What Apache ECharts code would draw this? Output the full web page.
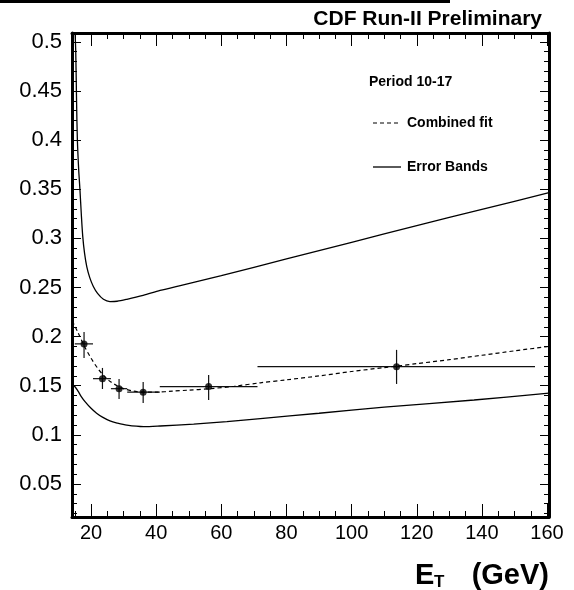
<!DOCTYPE html>
<html>
<head>
<meta charset="utf-8">
<script src="https://cdn.jsdelivr.net/npm/echarts@6/dist/echarts.min.js"></script>
<style>html,body{margin:0;padding:0;background:#fff;}#c{width:574px;height:590px;}</style>
</head>
<body>
<div id="c"></div>
<script>
// ---- data ----
const pointX = [17.85, 23.5, 28.6, 36.0, 56.1, 113.8];
const pointY = [0.1926, 0.1572, 0.1470, 0.1434, 0.1491, 0.1694];
const binLo  = [15.0, 20.6, 26.1, 31.1, 41.1, 71.1];
const binHi  = [20.6, 26.1, 31.1, 41.1, 71.1, 156.3];
const errLo  = [0.1783, 0.1467, 0.1366, 0.1325, 0.1355, 0.1518];
const errHi  = [0.2048, 0.1681, 0.1569, 0.1539, 0.1610, 0.1865];

const fitX = [14.15, 15, 16, 18, 20, 22, 24, 26, 28, 30, 33, 36, 40, 45, 50, 56, 64, 72, 80, 90, 100, 110, 114, 120, 130, 140, 150, 160, 160.6];
const fitY = [0.216, 0.211, 0.204, 0.190, 0.178, 0.168, 0.160, 0.154, 0.150, 0.147, 0.1445, 0.1435, 0.1435, 0.1445, 0.1455, 0.1468, 0.1495, 0.1530, 0.1560, 0.1600, 0.1645, 0.1685, 0.1700, 0.1725, 0.1765, 0.1810, 0.1855, 0.1898, 0.1900];

const upX = [14.9, 15.0, 15.3, 15.55, 15.8, 16.2, 16.6, 17.0, 17.45, 18.0, 18.7, 19.6, 20.7, 22.0, 23.8, 25.8, 28, 31, 36, 41.2, 47.4, 60, 80, 100, 120, 140, 160, 160.6];
const upY = [0.56, 0.52, 0.49, 0.44, 0.40, 0.37, 0.349, 0.325, 0.302, 0.285, 0.271, 0.260, 0.251, 0.244, 0.238, 0.2357, 0.236, 0.238, 0.242, 0.247, 0.252, 0.262, 0.279, 0.296, 0.313, 0.3295, 0.346, 0.3465];

const loX = [14.15, 14.8, 16, 17, 18.15, 20, 21.7, 23.5, 25.8, 28, 31, 36.1, 41.2, 51.5, 61.7, 72, 90, 110, 137.6, 160.6];
const loY = [0.151, 0.150, 0.1445, 0.139, 0.1338, 0.127, 0.122, 0.118, 0.1142, 0.112, 0.1098, 0.1083, 0.109, 0.111, 0.1134, 0.1165, 0.122, 0.1282, 0.1355, 0.1424];

const xMajor = [20, 40, 60, 80, 100, 120, 140, 160];
const xMinor = [15, 25, 30, 35, 45, 50, 55, 65, 70, 75, 85, 90, 95, 105, 110, 115, 125, 130, 135, 145, 150, 155];
const yMajor = [0.05, 0.1, 0.15, 0.2, 0.25, 0.3, 0.35, 0.4, 0.45, 0.5];
const yMinor = [0.02, 0.03, 0.04, 0.06, 0.07, 0.08, 0.09, 0.11, 0.12, 0.13, 0.14, 0.16, 0.17, 0.18, 0.19, 0.21, 0.22, 0.23, 0.24, 0.26, 0.27, 0.28, 0.29, 0.31, 0.32, 0.33, 0.34, 0.36, 0.37, 0.38, 0.39, 0.41, 0.42, 0.43, 0.44, 0.46, 0.47, 0.48, 0.49];

const titleText = 'CDF Run-II Preliminary';
const periodText = 'Period 10-17';
const fitName = 'Combined fit';
const bandName = 'Error Bands';

// ---- chart ----
const FONT = '"Liberation Sans", Arial, Helvetica, sans-serif';
const X_MIN = 14.15, X_MAX = 160.6, Y_MIN = 0.0164, Y_MAX = 0.509;
const chart = echarts.init(document.getElementById('c'), null, {renderer: 'canvas'});

function xAx(pos, major, showLabel, lineShow) {
  return {
    type: 'value', position: pos, min: X_MIN, max: X_MAX,
    axisLine: {show: lineShow, onZero: false, lineStyle: {color: '#000', width: 3}},
    axisTick: {show: true, inside: true, length: major ? 13 : 6, customValues: major ? xMajor : xMinor,
               lineStyle: {color: '#000', width: 1}},
    axisLabel: {show: showLabel, customValues: xMajor, margin: 6, color: '#000', fontSize: 20, fontFamily: FONT},
    splitLine: {show: false}
  };
}
function yAx(pos, major, showLabel, lineShow) {
  return {
    type: 'value', position: pos, min: Y_MIN, max: Y_MAX,
    axisLine: {show: lineShow, onZero: false, lineStyle: {color: '#000', width: 3}},
    axisTick: {show: true, inside: true, length: major ? 9 : 5, customValues: major ? yMajor : yMinor,
               lineStyle: {color: '#000', width: 1}},
    axisLabel: {show: showLabel, customValues: yMajor, margin: 10, color: '#000', fontSize: 22, fontFamily: FONT,
                formatter: v => String(+(+v).toFixed(2))},
    splitLine: {show: false}
  };
}

const pts = pointX.map((x, i) => [x, pointY[i], binLo[i], binHi[i], errLo[i], errHi[i]]);

chart.setOption({
  animation: false,
  backgroundColor: '#fff',
  grid: {left: 72, right: 25, top: 33, bottom: 73, containLabel: false},
  xAxis: [xAx('bottom', true, true, true), xAx('bottom', false, false, false),
          xAx('top', true, false, true), xAx('top', false, false, false)],
  yAxis: [yAx('left', true, true, true), yAx('left', false, false, false),
          yAx('right', true, false, true), yAx('right', false, false, false)],
  series: [
    {type: 'line', name: bandName, data: upX.map((x, i) => [x, upY[i]]), showSymbol: false, smooth: 0.3, clip: true,
     lineStyle: {color: '#000', width: 1.3}},
    {type: 'line', name: bandName, data: loX.map((x, i) => [x, loY[i]]), showSymbol: false, smooth: 0.3, clip: true,
     lineStyle: {color: '#000', width: 1.3}},
    {type: 'line', name: fitName, data: fitX.map((x, i) => [x, fitY[i]]), showSymbol: false, smooth: 0.3, clip: true,
     lineStyle: {color: '#000', width: 1.2, type: [4, 3]}},
    {type: 'custom', clip: true, data: pts, encode: {x: 0, y: 1},
     renderItem: function (params, api) {
       const c = api.coord([api.value(0), api.value(1)]);
       const l = api.coord([api.value(2), api.value(1)]);
       const r = api.coord([api.value(3), api.value(1)]);
       const b = api.coord([api.value(0), api.value(4)]);
       const t = api.coord([api.value(0), api.value(5)]);
       const st = {stroke: '#111', lineWidth: 1.2};
       return {type: 'group', children: [
         {type: 'line', shape: {x1: l[0], y1: c[1], x2: r[0], y2: c[1]}, style: st},
         {type: 'line', shape: {x1: c[0], y1: b[1], x2: c[0], y2: t[1]}, style: st}
       ]};
     }},
    {type: 'scatter', data: pointX.map((x, i) => [x, pointY[i]]), symbol: 'circle', symbolSize: 7,
     itemStyle: {color: '#000'}, z: 5}
  ],
  graphic: [
    {type: 'rect', shape: {x: 0, y: 0, width: 450, height: 3}, style: {fill: '#000'}},
    {type: 'text', x: 542, y: 30, style: {text: titleText, font: 'bold 21px ' + FONT, fill: '#000',
      textAlign: 'right', textVerticalAlign: 'bottom'}},
    {type: 'text', x: 369, y: 82, style: {text: periodText, font: 'bold 14px ' + FONT, fill: '#000',
      textAlign: 'left', textVerticalAlign: 'middle'}},
    {type: 'line', shape: {x1: 373, y1: 123, x2: 401, y2: 123}, style: {stroke: '#000', lineWidth: 1.2, lineDash: [4, 3]}},
    {type: 'text', x: 407, y: 123, style: {text: fitName, font: 'bold 14px ' + FONT, fill: '#000',
      textAlign: 'left', textVerticalAlign: 'middle'}},
    {type: 'line', shape: {x1: 373, y1: 167, x2: 401, y2: 167}, style: {stroke: '#000', lineWidth: 1.3}},
    {type: 'text', x: 407, y: 167, style: {text: bandName, font: 'bold 14px ' + FONT, fill: '#000',
      textAlign: 'left', textVerticalAlign: 'middle'}},
    {type: 'text', x: 415, y: 576, style: {text: 'E', font: 'bold 29px ' + FONT, fill: '#000',
      textAlign: 'left', textVerticalAlign: 'middle'}},
    {type: 'text', x: 434, y: 582, style: {text: 'T', font: 'bold 17px ' + FONT, fill: '#000',
      textAlign: 'left', textVerticalAlign: 'middle'}},
    {type: 'text', x: 549, y: 576, style: {text: '(GeV)', font: 'bold 29px ' + FONT, fill: '#000',
      textAlign: 'right', textVerticalAlign: 'middle'}}
  ]
});
</script>
</body>
</html>
